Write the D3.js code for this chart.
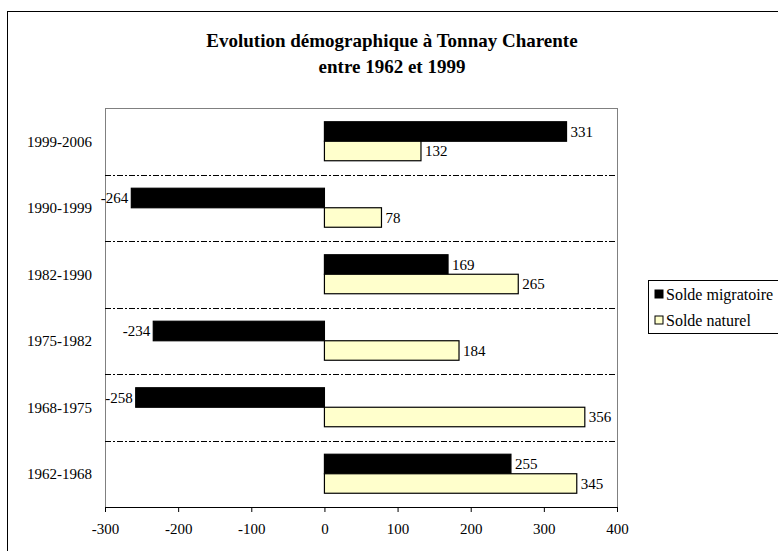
<!DOCTYPE html>
<html>
<head>
<meta charset="utf-8">
<script src="https://cdn.jsdelivr.net/npm/d3@7/dist/d3.min.js"></script>
<style>
  html, body { margin: 0; padding: 0; background: #fff; }
  svg { display: block; font-family: "Liberation Serif", "Times New Roman", serif; }
</style>
</head>
<body>
<svg id="chart" width="778" height="551"></svg>
<script>
// Periods, top to bottom
const periods = ["1999-2006", "1990-1999", "1982-1990", "1975-1982", "1968-1975", "1962-1968"];
// Migration balance per period
const soldeMigratoire = [331, -264, 169, -234, -258, 255];
// Natural balance (births minus deaths) per period
const soldeNaturel = [132, 78, 265, 184, 356, 345];
const seriesNames = ["Solde migratoire", "Solde naturel"];
const xTicks = [-300, -200, -100, 0, 100, 200, 300, 400];

const FONT = 15;
const svg = d3.select("#chart");
const plot = { left: 105, top: 108, right: 617, bottom: 507 };

// Outer chart frame
svg.append("rect")
  .attr("x", 7.5).attr("y", 11.5)
  .attr("width", 790).attr("height", 560)
  .attr("fill", "#fff").attr("stroke", "#000").attr("stroke-width", 1);

// Title
const title = svg.append("text")
  .attr("text-anchor", "middle")
  .attr("font-weight", "bold")
  .attr("font-size", 19);
title.append("tspan").attr("x", 392).attr("y", 47).text("Evolution démographique à Tonnay Charente");
title.append("tspan").attr("x", 392).attr("y", 73).text("entre 1962 et 1999");

const x = d3.scaleLinear().domain([-300, 400]).range([plot.left, plot.right]);
const y = d3.scaleBand().domain(periods).range([plot.top, plot.bottom]);
const inner = d3.scaleBand().domain(seriesNames).range([0, y.bandwidth()]).paddingOuter(0.705).paddingInner(0);

// Plot area border
svg.append("rect")
  .attr("x", plot.left + 0.5).attr("y", plot.top + 0.5)
  .attr("width", plot.right - plot.left).attr("height", plot.bottom - plot.top)
  .attr("fill", "#fff").attr("stroke", "#808080").attr("stroke-width", 1);

// Dash-dot separators between periods
svg.append("g").selectAll("line")
  .data(periods.slice(1))
  .join("line")
  .attr("x1", plot.left).attr("x2", plot.right)
  .attr("y1", d => Math.round(y(d)) + 0.5)
  .attr("y2", d => Math.round(y(d)) + 0.5)
  .attr("stroke", "#000").attr("stroke-width", 1)
  .attr("stroke-dasharray", "6,2,2,2");

const rows = periods.map((p, i) => ({ period: p, values: [soldeMigratoire[i], soldeNaturel[i]] }));
const fills = ["#000000", "#FFFFCC"];

const g = svg.append("g");
rows.forEach(r => {
  r.values.forEach((v, k) => {
    const name = seriesNames[k];
    const y0 = y(r.period) + inner(name);
    const h = inner.bandwidth();
    const xa = x(Math.min(0, v)), xb = x(Math.max(0, v));
    g.append("rect")
      .attr("x", xa).attr("y", y0)
      .attr("width", xb - xa).attr("height", h)
      .attr("fill", fills[k])
      .attr("stroke", "#000").attr("stroke-width", 1.2);
    g.append("text")
      .attr("x", v >= 0 ? xb + 4 : xa - 3)
      .attr("y", y0 + h / 2)
      .attr("dy", "0.35em")
      .attr("text-anchor", v >= 0 ? "start" : "end")
      .attr("font-size", FONT)
      .text(String(v));
  });
});

// Category labels
svg.append("g").selectAll("text")
  .data(periods)
  .join("text")
  .attr("x", 92)
  .attr("y", d => y(d) + y.bandwidth() / 2)
  .attr("dy", "0.35em")
  .attr("text-anchor", "end")
  .attr("font-size", FONT)
  .text(d => d);

// X axis
const xAxis = svg.append("g")
  .attr("transform", `translate(0,${plot.bottom})`)
  .call(d3.axisBottom(x).tickValues(xTicks).tickSize(5).tickPadding(11).tickFormat(d => String(d)));
xAxis.select(".domain").attr("stroke", "#000");
xAxis.selectAll(".tick line").attr("stroke", "#000");
xAxis.selectAll("text")
  .attr("font-family", "'Liberation Serif', 'Times New Roman', serif")
  .attr("font-size", FONT).attr("fill", "#000");

// Legend
const lg = svg.append("g").attr("transform", "translate(648,280)");
lg.append("rect")
  .attr("x", 0.5).attr("y", 0.5).attr("width", 145).attr("height", 53)
  .attr("fill", "#fff").attr("stroke", "#000");
seriesNames.forEach((name, k) => {
  const cy = 14 + k * 26;
  lg.append("rect")
    .attr("x", 7).attr("y", cy - 4).attr("width", 8).attr("height", 8)
    .attr("fill", fills[k]).attr("stroke", "#000");
  lg.append("text")
    .attr("x", 18).attr("y", cy).attr("dy", "0.35em")
    .attr("font-size", 16).text(name);
});
</script>
</body>
</html>
